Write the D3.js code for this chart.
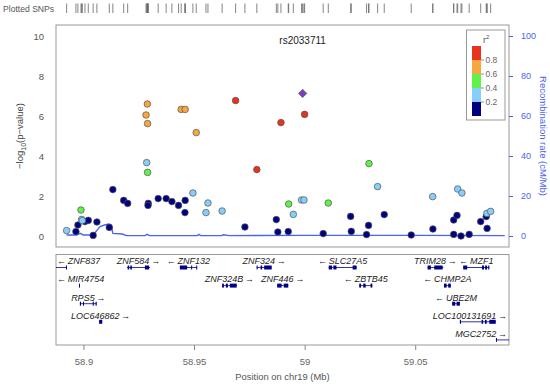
<!DOCTYPE html>
<html>
<head>
<meta charset="utf-8">
<script src="https://cdn.jsdelivr.net/npm/d3@7"></script>
<style>
  body { margin: 0; background: #fff; }
  text { font-family: "Liberation Sans", Arial, sans-serif; }
</style>
</head>
<body>
<div id="chart"></div>
<script>
// SNPs: position (Mb), -log10 p, r2 with the lead SNP
const snpPos = [58.8924, 58.8966, 58.8975, 58.8989, 58.8992, 58.8995, 58.9007, 58.9022, 58.9044, 58.9061,
  58.9117, 58.9133, 58.9182, 58.9200, 58.9283, 58.9289, 58.9290, 58.9286, 58.9290, 58.9293,
  58.9292, 58.9338, 58.9374, 58.9400, 58.9430, 58.9442, 58.9460, 58.9460, 58.9459, 58.9495,
  58.9510, 58.9554, 58.9563, 58.9627, 58.9688, 58.9730, 58.9784, 58.9872, 58.9879, 58.9893,
  58.9926, 58.9928, 58.9949, 58.9986, 58.9997, 59.0000, 59.0084, 59.0107, 59.0208, 59.0211,
  59.0280, 59.0289, 59.0291, 59.0330, 59.0360, 59.0482, 59.0579, 59.0580, 59.0674, 59.0689,
  59.0674, 59.0692, 59.0711, 59.0707, 59.0744, 59.0796, 59.0821, 59.0825, 59.0824, 59.0841]
const snpLogP = [0.27, 0.22, 0.55, 1.30, 0.83, 0.77, 0.72, 0.78, 0.03, 0.70,
  0.43, 2.32, 1.78, 1.63, 6.05, 6.60, 5.62, 3.67, 3.18, 1.63,
  1.53, 1.87, 1.87, 1.72, 1.53, 6.33, 6.33, 1.78, 1.17, 2.15,
  5.17, 1.17, 1.65, 1.25, 6.77, 0.45, 3.32, 0.82, 0.20, 5.67,
  0.22, 1.60, 1.08, 1.80, 1.80, 6.08, 0.12, 1.65, 0.98, 0.23,
  0.07, 0.53, 3.62, 2.47, 1.07, 0.05, 1.97, 0.35, 0.80, 1.03,
  0.08, 2.35, 2.15, 0.00, 0.08, 0.72, 0.97, 0.38, 1.13, 1.23]
const snpR2 = [0.3, 0.1, 0.1, 0.5, 0.3, 0.3, 0.1, 0.1, 0.1, 0.1,
  0.1, 0.1, 0.1, 0.1, 0.7, 0.7, 0.7, 0.3, 0.5, 0.1,
  0.1, 0.1, 0.1, 0.1, 0.1, 0.7, 0.7, 0.1, 0.1, 0.3,
  0.7, 0.3, 0.3, 0.3, 0.9, 0.1, 0.9, 0.1, 0.1, 0.9,
  0.1, 0.5, 0.3, 0.3, 0.3, 0.9, 0.1, 0.5, 0.1, 0.1,
  0.1, 0.1, 0.5, 0.3, 0.1, 0.1, 0.3, 0.1, 0.1, 0.1,
  0.1, 0.3, 0.3, 0.1, 0.1, 0.1, 0.1, 0.1, 0.3, 0.3]

const leadName = 'rs2033711'
const leadPos = 58.9991
const leadLogP = 7.13

// recombination rate (cM/Mb)
const recombPos = [58.8924, 58.8970, 58.8985, 58.9000, 58.9045, 58.9060, 58.9075, 58.9095, 58.9115, 58.9125,
  58.9133, 58.9175, 58.9195, 58.9278, 58.9288, 58.9298, 58.9515, 58.9522, 58.9530, 58.9625,
  58.9632, 58.9660, 59.0000, 59.0500, 59.0905]
const recombRate = [0.5, 0.5, 1.3, 0.5, 0.5, 2.7, 4.7, 5.5, 6.0, 5.5,
  1.3, 1.0, 0.2, 0.2, 0.8, 0.2, 0.2, 0.8, 0.2, 0.2,
  0.6, 0.2, 0.3, 0.3, 0.2]

// genes
const geneNames = ['ZNF837', 'ZNF584', 'ZNF132', 'ZNF324', 'SLC27A5', 'TRIM28', 'MZF1',
  'MIR4754', 'ZNF324B', 'ZNF446', 'ZBTB45', 'CHMP2A',
  'RPS5', 'UBE2M', 'LOC646862', 'LOC100131691', 'MGC2752']
const geneStart = [58.8850, 58.9197, 58.9436, 58.9783, 59.0109, 59.0556, 59.0717,
  58.8980, 58.9627, 58.9876, 59.0247, 59.0630,
  58.8984, 59.0667, 58.9071, 59.0702, 59.0865]
const geneEnd = [58.8924, 58.9301, 58.9513, 58.9851, 59.0235, 59.0627, 59.0835,
  58.8982, 58.9693, 58.9926, 59.0306, 59.0661,
  58.9060, 59.0702, 58.9085, 59.0864, 59.0950]
const geneStrand = ['-', '+', '-', '+', '-', '+', '-',
  '-', '+', '+', '-', '-',
  '+', '-', '+', '+', '+']
const geneRow = [0, 0, 0, 0, 0, 0, 0, 1, 1, 1, 1, 1, 2, 2, 3, 3, 4]
const geneExons = [
  [[58.8921, 58.8924]],
  [[58.9200, 58.9207], [58.9212, 58.9219], [58.9278, 58.9297]],
  [[58.9436, 58.9469], [58.9487, 58.9490], [58.9510, 58.9513]],
  [[58.9783, 58.9787], [58.9801, 58.9808], [58.9817, 58.9851]],
  [[59.0109, 59.0124], [59.0130, 59.0144], [59.0217, 59.0235]],
  [[59.0556, 59.0571], [59.0586, 59.0624]],
  [[59.0717, 59.0735], [59.0802, 59.0811], [59.0816, 59.0825], [59.0830, 59.0835]],
  [[58.8980, 58.8982]],
  [[58.9627, 58.9635], [58.9644, 58.9653], [58.9662, 58.9693]],
  [[58.9876, 58.9896], [58.9906, 58.9926]],
  [[59.0247, 59.0255], [59.0265, 59.0276], [59.0298, 59.0306]],
  [[59.0630, 59.0642], [59.0649, 59.0661]],
  [[58.8984, 58.8989], [58.8998, 58.9002], [58.9042, 58.9047], [58.9055, 58.9060]],
  [[59.0667, 59.0681], [59.0687, 59.0702]],
  [[58.9071, 58.9085]],
  [[59.0702, 59.0707], [59.0800, 59.0807], [59.0815, 59.0823], [59.0835, 59.0864]],
  [[59.0865, 59.0868]]
]

const xTicks = [58.9, 58.95, 59, 59.05]
const yTicks = [0, 2, 4, 6, 8, 10]
const recTicks = [0, 20, 40, 60, 80, 100]
const ldBreaks = [0.2, 0.4, 0.6, 0.8]
const ldColors = ['#000080', '#87cefa', '#5ff24a', '#f6a740', '#e8321e']
const leadColor = '#7b3fbd'

const width = 550
const height = 385
const panel = { left: 56, right: 509, top: 25, bottom: 247 }
const genePanel = { top: 254.5, bottom: 345 }

const svg = d3.select('#chart').append('svg')
  .attr('width', width)
  .attr('height', height)

const x = d3.scaleLinear().domain([58.8876, 59.0924]).range([panel.left, panel.right])
const y = d3.scaleLinear().domain([0, 10]).range([236, 36])
const yRec = d3.scaleLinear().domain([0, 100]).range([236, 36])
const color = d3.scaleThreshold().domain(ldBreaks).range(ldColors)

svg.append('clipPath').attr('id', 'clipMain')
  .append('rect')
  .attr('x', panel.left).attr('y', panel.top)
  .attr('width', panel.right - panel.left).attr('height', panel.bottom - panel.top)
svg.append('clipPath').attr('id', 'clipGene')
  .append('rect')
  .attr('x', panel.left).attr('y', genePanel.top)
  .attr('width', panel.right - panel.left).attr('height', genePanel.bottom - genePanel.top)

// plotted SNPs strip
svg.append('text')
  .attr('x', 3).attr('y', 11.5)
  .attr('font-size', 8.6).attr('fill', '#555')
  .text('Plotted SNPs')
svg.append('g')
  .selectAll('line')
  .data(snpPos.concat([leadPos]))
  .join('line')
  .attr('x1', d => x(d)).attr('x2', d => x(d))
  .attr('y1', 3.5).attr('y2', 13)
  .attr('stroke', '#666').attr('stroke-width', 0.8)

// main panel
svg.append('rect')
  .attr('x', panel.left).attr('y', panel.top)
  .attr('width', panel.right - panel.left).attr('height', panel.bottom - panel.top)
  .attr('fill', 'none').attr('stroke', '#999').attr('stroke-width', 1)

const gMain = svg.append('g').attr('clip-path', 'url(#clipMain)')

gMain.append('path')
  .datum(recombPos.map((p, i) => [p, recombRate[i]]))
  .attr('fill', 'none')
  .attr('stroke', '#4b62f2')
  .attr('stroke-width', 1.4)
  .attr('d', d3.line().x(d => x(d[0])).y(d => yRec(d[1])))

const snps = snpPos.map((p, i) => ({ pos: p, logp: snpLogP[i], r2: snpR2[i] }))
  .sort((a, b) => a.r2 - b.r2)

gMain.append('g')
  .selectAll('circle')
  .data(snps)
  .join('circle')
  .attr('cx', d => x(d.pos))
  .attr('cy', d => y(d.logp))
  .attr('r', 3.3)
  .attr('fill', d => color(d.r2))
  .attr('stroke', '#555')
  .attr('stroke-width', 0.7)

// lead SNP as a diamond (rotated square)
gMain.append('path')
  .attr('d', d3.symbol().type(d3.symbolSquare).size(34)())
  .attr('transform', `translate(${x(leadPos)},${y(leadLogP)}) rotate(45)`)
  .attr('fill', leadColor)
  .attr('stroke', '#555')
  .attr('stroke-width', 0.7)

svg.append('text')
  .attr('x', x(leadPos)).attr('y', 44)
  .attr('text-anchor', 'middle')
  .attr('font-size', 10).attr('fill', '#222')
  .text(leadName)

// left axis
const axL = svg.append('g')
  .attr('transform', `translate(${panel.left - 1},0)`)
  .call(d3.axisLeft(y).tickValues(yTicks).tickSize(0).tickPadding(11))
axL.select('.domain').remove()
axL.selectAll('text').attr('font-size', 9.5).attr('fill', '#555')
  .style('font-family', '"Liberation Sans", Arial, sans-serif')

svg.append('text')
  .attr('transform', `translate(23,136) rotate(-90)`)
  .attr('text-anchor', 'middle')
  .attr('font-size', 9.5).attr('fill', '#444')
  .call(t => {
    t.append('tspan').text('\u2212log')
    t.append('tspan').attr('font-size', 7).attr('dy', 2.5).text('10')
    t.append('tspan').attr('dy', -2.5).text('(p\u2212value)')
  })

// right axis
const axR = svg.append('g')
  .attr('transform', `translate(${panel.right},0)`)
  .call(d3.axisRight(yRec).tickValues(recTicks).tickSize(4).tickPadding(8))
axR.select('.domain').remove()
axR.selectAll('line').attr('stroke', '#4b62f2')
axR.selectAll('text').attr('font-size', 9).attr('fill', '#4b62f2')
  .style('font-family', '"Liberation Sans", Arial, sans-serif')

svg.append('text')
  .attr('transform', `translate(540,136) rotate(90)`)
  .attr('text-anchor', 'middle')
  .attr('font-size', 9.5).attr('fill', '#4b62f2')
  .text('Recombination rate (cM/Mb)')

// legend
const leg = svg.append('g')
leg.append('rect')
  .attr('x', 466.5).attr('y', 30).attr('width', 38.5).attr('height', 90)
  .attr('fill', '#fff').attr('stroke', '#999').attr('stroke-width', 1)
const legY = d3.scaleLinear().domain([0, 1]).range([116, 46])
const legBins = [0, 0.2, 0.4, 0.6, 0.8]
leg.selectAll('rect.bin')
  .data(legBins)
  .join('rect')
  .attr('class', 'bin')
  .attr('x', 472).attr('width', 9)
  .attr('y', d => legY(d + 0.2))
  .attr('height', d => legY(d) - legY(d + 0.2))
  .attr('fill', d => color(d + 0.1))
leg.selectAll('line.tk')
  .data(ldBreaks)
  .join('line')
  .attr('class', 'tk')
  .attr('x1', 481).attr('x2', 484)
  .attr('y1', d => legY(d)).attr('y2', d => legY(d))
  .attr('stroke', '#777').attr('stroke-width', 0.8)
leg.selectAll('text.tl')
  .data(ldBreaks)
  .join('text')
  .attr('class', 'tl')
  .attr('x', 485.5).attr('y', d => legY(d) + 3)
  .attr('font-size', 8.5).attr('fill', '#666')
  .text(d => d.toFixed(1))
leg.append('text')
  .attr('x', 483).attr('y', 43)
  .attr('font-size', 9).attr('fill', '#555')
  .call(t => {
    t.append('tspan').text('r')
    t.append('tspan').attr('font-size', 6).attr('dy', -4).text('2')
  })

// gene panel
svg.append('rect')
  .attr('x', panel.left).attr('y', genePanel.top)
  .attr('width', panel.right - panel.left).attr('height', genePanel.bottom - genePanel.top)
  .attr('fill', 'none').attr('stroke', '#999').attr('stroke-width', 1)

const rowY = r => 267.5 + r * 18.1
const gGene = svg.append('g').attr('clip-path', 'url(#clipGene)')
const geneColor = '#00008b'

geneNames.forEach((name, i) => {
  const g = gGene.append('g')
  const yy = rowY(geneRow[i])
  g.append('line')
    .attr('x1', x(geneStart[i])).attr('x2', x(geneEnd[i]))
    .attr('y1', yy).attr('y2', yy)
    .attr('stroke', geneColor).attr('stroke-width', 0.8)
  g.selectAll('rect')
    .data(geneExons[i])
    .join('rect')
    .attr('x', d => x(d[0]))
    .attr('width', d => Math.max(1, x(d[1]) - x(d[0])))
    .attr('y', yy - 2).attr('height', 4)
    .attr('fill', geneColor)

  const label = geneStrand[i] === '+' ? name + '\u2009\u2192' : '\u2190\u2009' + name
  const t = svg.append('text')
    .attr('y', yy - 3.2)
    .attr('font-size', 9).attr('font-style', 'italic').attr('fill', '#222')
    .attr('text-anchor', 'middle')
    .text(label)
  const w = t.node().getComputedTextLength()
  let cx = (x(Math.max(geneStart[i], x.domain()[0])) + x(Math.min(geneEnd[i], x.domain()[1]))) / 2
  cx = Math.max(panel.left + 1 + w / 2, Math.min(panel.right - 2 - w / 2, cx))
  t.attr('x', cx)
})

// x axis
const axB = svg.append('g')
  .attr('transform', `translate(0,${genePanel.bottom})`)
  .call(d3.axisBottom(x).tickValues(xTicks).tickSize(5).tickPadding(8).tickFormat(d3.format('~g')))
axB.select('.domain').remove()
axB.selectAll('line').attr('stroke', '#888')
axB.selectAll('text').attr('font-size', 9.5).attr('fill', '#666')
  .style('font-family', '"Liberation Sans", Arial, sans-serif')

svg.append('text')
  .attr('x', (panel.left + panel.right) / 2).attr('y', 380)
  .attr('text-anchor', 'middle')
  .attr('font-size', 9.4).attr('fill', '#555')
  .text('Position on chr19 (Mb)')
</script>
</body>
</html>
